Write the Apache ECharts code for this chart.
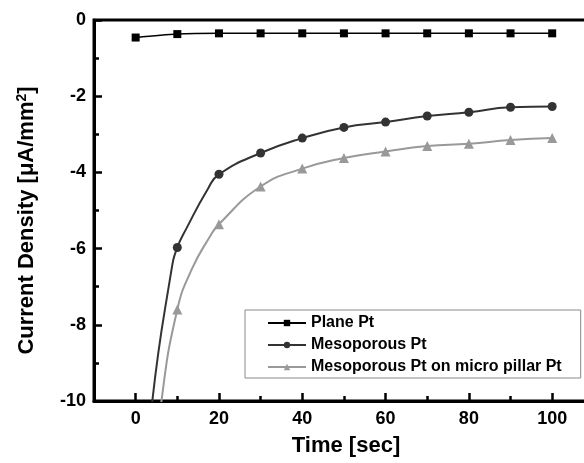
<!DOCTYPE html>
<html>
<head>
<meta charset="utf-8">
<script src="https://cdn.jsdelivr.net/npm/echarts@6/dist/echarts.min.js"></script>
<style>html,body{margin:0;padding:0;background:#fff;}#c{width:584px;height:463px;}</style>
</head>
<body>
<div id="c"></div>
<script>
// ---- data ----
const seriesNames = ['Plane Pt', 'Mesoporous Pt', 'Mesoporous Pt on micro pillar Pt'];
const planeX = [0, 10, 20, 30, 40, 50, 60, 70, 80, 90, 100];
const planeY = [-0.46, -0.37, -0.35, -0.35, -0.35, -0.35, -0.35, -0.35, -0.35, -0.35, -0.35];
const mesoX = [0, 4, 8.6, 10, 12.2, 17.4, 20, 30, 40, 50, 60, 70, 80, 90, 100];
const mesoY = [-15, -10, -6.56, -5.97, -5.47, -4.42, -4.05, -3.49, -3.1, -2.82, -2.68, -2.52, -2.42, -2.29, -2.27];
const microX = [0, 6.2, 10, 13.4, 17.8, 20, 30, 40, 50, 60, 70, 80, 90, 100];
const microY = [-16, -10, -7.6, -6.56, -5.69, -5.36, -4.37, -3.9, -3.62, -3.45, -3.31, -3.25, -3.15, -3.1];
const xMajorTicks = [0, 20, 40, 60, 80, 100];
const xMinorTicks = [10, 30, 50, 70, 90];

const FONT = '"Liberation Sans", Arial, sans-serif';
// markers only on the measured 10-second points inside the plot
const toData = (xs, ys) => xs.map((x, i) => {
  const item = {value: [x, ys[i]]};
  if (!(x % 10 === 0 && ys[i] >= -10)) item.symbol = 'none';
  return item;
});

const chart = echarts.init(document.getElementById('c'), null, {renderer: 'canvas'});
chart.setOption({
  animation: false,
  backgroundColor: '#fff',
  grid: {left: 94, top: 20, width: 504, height: 381, outerBoundsMode: 'none', containLabel: false,
    show: true, borderWidth: 3, borderColor: '#000', backgroundColor: 'transparent'},
  legend: {
    orient: 'vertical', left: 245, top: 310,
    padding: [5, 19, 3, 22], itemWidth: 38, itemHeight: 8, itemGap: 6,
    borderColor: '#888', borderWidth: 1, backgroundColor: '#fff',
    textStyle: {fontSize: 16, fontWeight: 'bold', color: '#000', fontFamily: FONT},
    data: seriesNames
  },
  xAxis: [{
    type: 'value', min: -10, max: 111, position: 'bottom',
    name: 'Time [sec]', nameLocation: 'middle', nameGap: 34,
    nameTextStyle: {fontSize: 22, fontWeight: 'bold', color: '#000', fontFamily: FONT},
    axisLine: {onZero: false, lineStyle: {color: '#000', width: 3}},
    axisTick: {inside: true, length: 8, lineStyle: {color: '#000', width: 2.5}, customValues: xMajorTicks},
    axisLabel: {fontSize: 18, fontWeight: 'bold', color: '#000', fontFamily: FONT, margin: 9, customValues: xMajorTicks},
    splitLine: {show: false}
  }, {
    type: 'value', min: -10, max: 111, position: 'bottom',
    axisLine: {show: false, onZero: false},
    axisTick: {inside: true, length: 5, lineStyle: {color: '#000', width: 2.5}, customValues: xMinorTicks},
    axisLabel: {show: false},
    splitLine: {show: false}
  }],
  yAxis: {
    type: 'value', min: -10, max: 0, interval: 2,
    name: 'Current Density [μA/mm{sup|2}]', nameLocation: 'middle', nameGap: 56, nameRotate: 90,
    nameTextStyle: {fontSize: 22, fontWeight: 'bold', color: '#000', fontFamily: FONT, padding: [0, 20, 0, 0],
      rich: {sup: {fontSize: 14, fontWeight: 'bold', color: '#000', fontFamily: FONT, verticalAlign: 'top', padding: [0, 0, 9, 0]}}},
    axisLine: {onZero: false, lineStyle: {color: '#000', width: 3}},
    axisTick: {inside: true, length: 8, lineStyle: {color: '#000', width: 2.5}},
    minorTick: {show: true, splitNumber: 2, length: 5, lineStyle: {color: '#000', width: 2.5}},
    axisLabel: {fontSize: 18, fontWeight: 'bold', color: '#000', fontFamily: FONT, margin: 8},
    splitLine: {show: false}, minorSplitLine: {show: false}
  },
  series: [{
    name: seriesNames[0], type: 'line', data: toData(planeX, planeY), smooth: 0.3,
    symbol: 'rect', symbolSize: 8,
    lineStyle: {color: '#000', width: 1.5}, itemStyle: {color: '#000'}, z: 4
  }, {
    name: seriesNames[1], type: 'line', data: toData(mesoX, mesoY), smooth: 0.5,
    symbol: 'circle', symbolSize: 9,
    lineStyle: {color: '#333', width: 2}, itemStyle: {color: '#333'}, z: 3
  }, {
    name: seriesNames[2], type: 'line', data: toData(microX, microY), smooth: 0.5,
    symbol: 'triangle', symbolSize: 10,
    lineStyle: {color: '#999', width: 2}, itemStyle: {color: '#999'}, z: 2
  }]
});
</script>
</body>
</html>
